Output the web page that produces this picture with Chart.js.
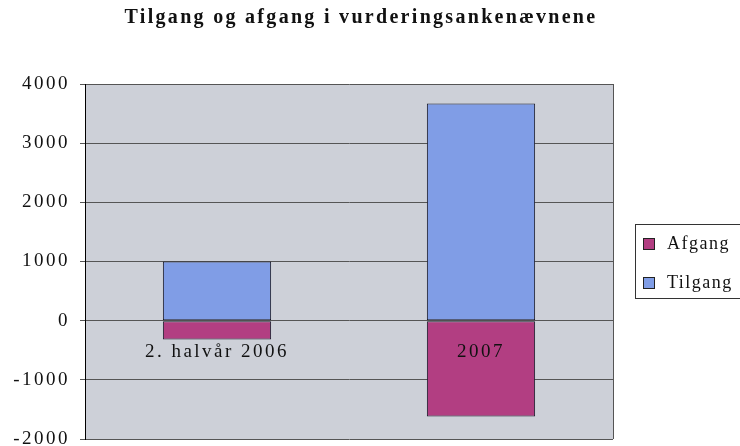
<!DOCTYPE html>
<html><head><meta charset="utf-8">
<script src="https://cdn.jsdelivr.net/npm/chart.js@4/dist/chart.umd.min.js"></script>
<style>html,body{margin:0;padding:0;background:#fff}#wrap{width:740px;height:446px}</style>
</head><body><div id="wrap"><canvas id="c" width="740" height="446"></canvas></div>
<script>
const title = 'Tilgang og afgang i vurderingsankenævnene';
const categories = ['2. halvår 2006', '2007'];
const seriesNames = ['Afgang', 'Tilgang'];
const afgang = [-320, -1620];
const tilgang = [1000, 3670];
const yMin = -2000, yMax = 4000, yStep = 1000;

const SERIF = '"Liberation Serif", "Times New Roman", serif';
const colAfgang = '#b23e82';
const colTilgang = '#809de6';

const deco = {
  id: 'deco',
  beforeLayout(chart) { chart.ctx.letterSpacing = '2.5px'; },
  beforeDraw(chart) {
    const ctx = chart.ctx, a = chart.chartArea;
    ctx.letterSpacing = '2.5px';
    ctx.save();
    ctx.fillStyle = '#cdd0d8';
    ctx.fillRect(a.left, a.top, a.right - a.left, a.bottom - a.top);
    ctx.restore();
  },
  afterDraw(chart) {
    const ctx = chart.ctx, a = chart.chartArea;
    ctx.save();
    // title
    ctx.fillStyle = '#111';
    ctx.font = 'bold 20px ' + SERIF;
    ctx.letterSpacing = '2.3px';
    ctx.textAlign = 'center';
    ctx.textBaseline = 'middle';
    ctx.fillText(chart.options.plugins.deco.title, 361, 18);
    // right border of plot
    ctx.strokeStyle = '#555';
    ctx.lineWidth = 1;
    ctx.beginPath();
    ctx.moveTo(Math.round(a.right) + 0.5, a.top);
    ctx.lineTo(Math.round(a.right) + 0.5, a.bottom);
    ctx.stroke();
    // legend
    ctx.textAlign = 'left';
    ctx.strokeStyle = '#333';
    ctx.strokeRect(635.5, 224.5, 112, 74);
    const ds = chart.data.datasets;
    const ys = [244, 283];
    ds.forEach((d, i) => {
      ctx.fillStyle = d.backgroundColor;
      ctx.fillRect(643, ys[i] - 6, 12, 12);
      ctx.strokeStyle = '#222';
      ctx.strokeRect(643.5, ys[i] - 5.5, 11, 11);
      ctx.fillStyle = '#111';
      ctx.font = '18px ' + SERIF;
      ctx.letterSpacing = '1.5px';
      ctx.textBaseline = 'middle';
      ctx.fillText(d.label, 667, ys[i]);
    });
    ctx.restore();
  }
};

new Chart(document.getElementById('c'), {
  type: 'bar',
  data: {
    labels: categories,
    datasets: [
      { label: seriesNames[0], data: afgang, backgroundColor: colAfgang },
      { label: seriesNames[1], data: tilgang, backgroundColor: colTilgang }
    ]
  },
  options: {
    responsive: false,
    animation: false,
    devicePixelRatio: 1,
    datasets: { bar: { barPercentage: 0.41, categoryPercentage: 1, borderColor: '#1a1a2a', borderWidth: 1, borderSkipped: false } },
    layout: { padding: { left: 0, right: 127, top: 84, bottom: 7 } },
    plugins: {
      legend: { display: false },
      tooltip: { enabled: false },
      title: { display: false },
      deco: { title: title }
    },
    scales: {
      x: {
        type: 'category', stacked: true, position: { y: 0 },
        grid: { display: false, drawTicks: false },
        border: { display: false },
        ticks: { z: 1, color: '#111', font: { family: SERIF, size: 19 }, padding: 20, maxRotation: 0, autoSkip: false },
        afterFit(s) { s.height = 0; s.paddingLeft = 0; s.paddingRight = 0; }
      },
      y: {
        stacked: true, min: yMin, max: yMax,
        ticks: { stepSize: yStep, color: '#111', font: { family: SERIF, size: 19 }, padding: 10,
                 callback: v => String(v) },
        grid: { color: '#555', lineWidth: 1, tickLength: 5, drawTicks: true },
        border: { display: true, color: '#000', width: 1 },
        afterFit(s) { s.width = 85; s.paddingTop = 0; s.paddingBottom = 0; }
      }
    }
  },
  plugins: [deco]
});
</script>
</body></html>
